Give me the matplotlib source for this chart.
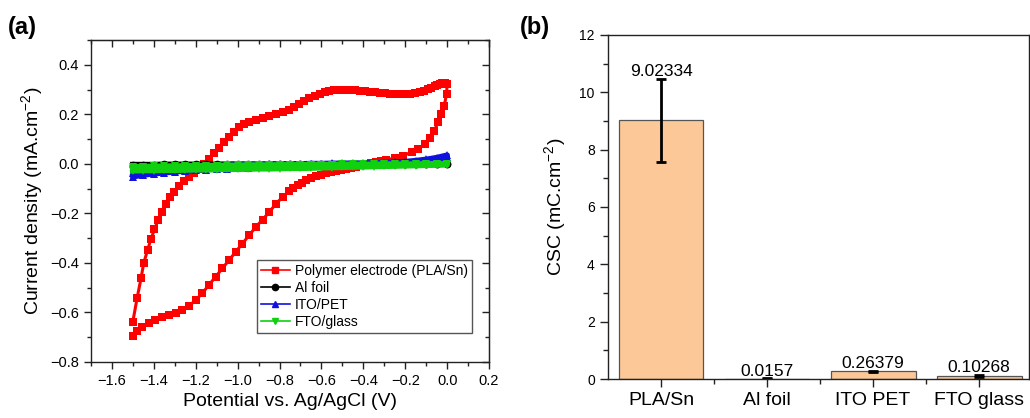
import matplotlib
matplotlib.use("Agg")
import matplotlib.pyplot as plt
from matplotlib.lines import Line2D
from matplotlib.ticker import MultipleLocator

plt.rcParams['font.family'] = ['Liberation Sans', 'DejaVu Sans']
plt.rcParams['mathtext.fontset'] = 'custom'
plt.rcParams['mathtext.rm'] = 'Liberation Sans'
plt.rcParams['mathtext.default'] = 'regular'

# ---------------- data: panel (a) cyclic voltammetry ----------------
# Polymer electrode (PLA/Sn): forward scan (-1.5 V -> 0 V)
pla_fwd_v = [-1.500, -1.480, -1.461, -1.448, -1.429, -1.413, -1.397, -1.380, -1.363, -1.344,
             -1.325, -1.304, -1.280, -1.256, -1.232, -1.209, -1.185, -1.161, -1.137, -1.113,
             -1.089, -1.065, -1.041, -1.017, -0.993, -0.969, -0.945, -0.913, -0.881, -0.849,
             -0.817, -0.785, -0.753, -0.729, -0.705, -0.681, -0.657, -0.633, -0.609, -0.585,
             -0.562, -0.538, -0.514, -0.490, -0.466, -0.442, -0.418, -0.394, -0.370, -0.346,
             -0.322, -0.298, -0.274, -0.250, -0.226, -0.202, -0.178, -0.154, -0.130, -0.110,
             -0.091, -0.075, -0.059, -0.047, -0.035, -0.023, -0.011, 0.000]
pla_fwd_j = [-0.637, -0.543, -0.462, -0.400, -0.346, -0.302, -0.265, -0.228, -0.195, -0.161,
             -0.134, -0.114, -0.091, -0.070, -0.054, -0.038, -0.020, 0.000, 0.020, 0.043,
             0.064, 0.087, 0.107, 0.130, 0.147, 0.161, 0.170, 0.178, 0.185, 0.194,
             0.201, 0.211, 0.219, 0.229, 0.241, 0.253, 0.265, 0.275, 0.284, 0.290,
             0.295, 0.297, 0.298, 0.298, 0.298, 0.297, 0.295, 0.293, 0.291, 0.289,
             0.287, 0.285, 0.284, 0.282, 0.281, 0.282, 0.284, 0.287, 0.292, 0.296,
             0.301, 0.308, 0.315, 0.320, 0.324, 0.327, 0.328, 0.322]
# reverse scan (0 V -> -1.5 V)
pla_rev_v = [-0.003, -0.014, -0.027, -0.043, -0.062, -0.083, -0.106, -0.138, -0.170, -0.210,
             -0.250, -0.290, -0.314, -0.338, -0.362, -0.386, -0.410, -0.434, -0.458, -0.482,
             -0.506, -0.530, -0.554, -0.577, -0.601, -0.625, -0.649, -0.673, -0.694, -0.714,
             -0.734, -0.753, -0.785, -0.817, -0.849, -0.881, -0.913, -0.945, -0.977, -1.009,
             -1.041, -1.073, -1.105, -1.137, -1.169, -1.200, -1.232, -1.264, -1.296, -1.328,
             -1.360, -1.392, -1.424, -1.456, -1.480, -1.500]
pla_rev_j = [0.281, 0.234, 0.201, 0.167, 0.134, 0.104, 0.080, 0.060, 0.047, 0.033,
             0.023, 0.016, 0.011, 0.006, 0.003, 0.000, -0.005, -0.011, -0.015, -0.020,
             -0.023, -0.027, -0.032, -0.038, -0.044, -0.051, -0.058, -0.067, -0.076, -0.087,
             -0.098, -0.109, -0.134, -0.161, -0.195, -0.225, -0.255, -0.288, -0.322, -0.355,
             -0.389, -0.422, -0.456, -0.489, -0.523, -0.550, -0.574, -0.590, -0.601, -0.610,
             -0.619, -0.630, -0.643, -0.657, -0.673, -0.697]

# potentials for the flat curves (forward then reverse)
flat_fwd_v = [-1.50, -1.45, -1.40, -1.35, -1.30, -1.25, -1.20, -1.15, -1.10, -1.05, -1.00,
              -0.95, -0.90, -0.85, -0.80, -0.75, -0.70, -0.65, -0.60, -0.55, -0.50,
              -0.45, -0.40, -0.35, -0.30, -0.25, -0.20, -0.15, -0.10, -0.05, 0.00]
flat_rev_v = [0.00, -0.05, -0.10, -0.15, -0.20, -0.25, -0.30, -0.35, -0.40, -0.45, -0.50,
              -0.55, -0.60, -0.65, -0.70, -0.75, -0.80, -0.85, -0.90, -0.95, -1.00,
              -1.05, -1.10, -1.15, -1.20, -1.25, -1.30, -1.35, -1.40, -1.45, -1.50]

al_fwd_j = [-0.003, -0.003, -0.003, -0.002, -0.002, -0.002, -0.002, -0.002, -0.002, -0.001, -0.001,
            -0.001, -0.001, -0.001, -0.001, -0.001, -0.001, 0.000, 0.000, 0.000, 0.000,
            0.000, 0.000, 0.000, 0.000, 0.000, 0.000, 0.000, 0.000, 0.000, 0.000]
al_rev_j = [-0.001, -0.001, -0.001, -0.001, -0.002, -0.002, -0.002, -0.002, -0.003, -0.003, -0.003,
            -0.003, -0.004, -0.004, -0.004, -0.004, -0.005, -0.005, -0.005, -0.005, -0.006,
            -0.006, -0.006, -0.006, -0.007, -0.007, -0.007, -0.007, -0.008, -0.008, -0.008]

ito_fwd_j = [-0.035, -0.030, -0.026, -0.022, -0.018, -0.015, -0.012, -0.010, -0.008, -0.006, -0.005,
             -0.004, -0.003, -0.002, -0.001, 0.000, 0.000, 0.001, 0.001, 0.002, 0.002,
             0.003, 0.003, 0.004, 0.005, 0.007, 0.009, 0.013, 0.018, 0.025, 0.035]
ito_rev_j = [0.028, 0.012, 0.006, 0.003, 0.001, 0.000, -0.001, -0.002, -0.003, -0.004, -0.005,
             -0.006, -0.007, -0.008, -0.009, -0.010, -0.011, -0.012, -0.013, -0.015, -0.017,
             -0.019, -0.021, -0.023, -0.026, -0.029, -0.032, -0.036, -0.040, -0.045, -0.052]

fto_fwd_j = [-0.012, -0.011, -0.010, -0.009, -0.009, -0.008, -0.008, -0.007, -0.007, -0.006, -0.006,
             -0.005, -0.005, -0.005, -0.004, -0.004, -0.004, -0.003, -0.003, -0.003, -0.002,
             -0.002, -0.002, -0.002, -0.001, -0.001, -0.001, -0.001, 0.000, 0.000, 0.000]
fto_rev_j = [-0.004, -0.005, -0.006, -0.007, -0.008, -0.009, -0.010, -0.011, -0.012, -0.013, -0.014,
             -0.015, -0.016, -0.017, -0.018, -0.018, -0.019, -0.020, -0.020, -0.021, -0.022,
             -0.022, -0.023, -0.024, -0.024, -0.025, -0.026, -0.026, -0.027, -0.027, -0.028]

series_labels = ['Polymer electrode (PLA/Sn)', 'Al foil', 'ITO/PET', 'FTO/glass']

# ---------------- data: panel (b) CSC bars ----------------
csc_categories = ['PLA/Sn', 'Al foil', 'ITO PET', 'FTO glass']
csc_values = [9.02334, 0.0157, 0.26379, 0.10268]
csc_errors = [1.45, 0.004, 0.02, 0.045]

# ---------------- figure ----------------
fig = plt.figure(figsize=(10.30, 4.18), dpi=100)
ax = fig.add_axes([0.0883, 0.134, 0.3865, 0.7703])
ax2 = fig.add_axes([0.5903, 0.0933, 0.4087, 0.823])

RED, BLACK, BLUE, GREEN = '#ff0000', '#000000', '#1010e0', '#10d010'

ax.plot(pla_fwd_v + pla_rev_v, pla_fwd_j + pla_rev_j, color=RED, marker='s', ms=5.2,
        lw=2.2, mec=RED, mew=0)
ax.plot(flat_fwd_v + flat_rev_v, al_fwd_j + al_rev_j, color=BLACK, marker='o', ms=5.5,
        lw=4, mew=0)
ax.plot(flat_fwd_v + flat_rev_v, ito_fwd_j + ito_rev_j, color=BLUE, marker='^', ms=6.2,
        lw=4, mew=0)
ax.plot(flat_fwd_v + flat_rev_v, fto_fwd_j + fto_rev_j, color=GREEN, marker='v', ms=6.2,
        lw=4, mew=0)

handles = [Line2D([], [], color=RED, marker='s', ms=4.5, lw=1.2),
           Line2D([], [], color=BLACK, marker='o', ms=4.5, lw=1.2),
           Line2D([], [], color=BLUE, marker='^', ms=5, lw=1.2),
           Line2D([], [], color=GREEN, marker='v', ms=5, lw=1.2)]
leg = ax.legend(handles, series_labels, loc='lower right', bbox_to_anchor=(0.957, 0.09),
                borderaxespad=0, fontsize=10, frameon=True, fancybox=False,
                edgecolor='#555555', framealpha=1, handlelength=2.1, handletextpad=0.35,
                labelspacing=0.22, borderpad=0.3)
leg.get_frame().set_linewidth(1.0)

ax.set_xlim(-1.7, 0.2)
ax.set_ylim(-0.8, 0.5)
ax.set_xticks([-1.6, -1.4, -1.2, -1.0, -0.8, -0.6, -0.4, -0.2, 0.0, 0.2])
ax.set_yticks([-0.8, -0.6, -0.4, -0.2, 0.0, 0.2, 0.4])
ax.xaxis.set_minor_locator(MultipleLocator(0.1))
ax.yaxis.set_minor_locator(MultipleLocator(0.1))
ax.tick_params(which='both', direction='out', labelsize=10.5, width=1, color='#222222')
ax.tick_params(which='major', length=5)
ax.tick_params(which='minor', length=3)
for sp in ax.spines.values():
    sp.set_linewidth(1.0)
    sp.set_color('#222222')

secx = ax.secondary_xaxis('top')
secx.set_xticks(ax.get_xticks())
secx.xaxis.set_minor_locator(MultipleLocator(0.1))
secx.tick_params(which='both', direction='in', labeltop=False, color='#222222', width=1)
secx.tick_params(which='major', length=5)
secx.tick_params(which='minor', length=3)
secy = ax.secondary_yaxis('right')
secy.set_yticks([-0.8, -0.6, -0.4, -0.2, 0.0, 0.2, 0.4])
secy.yaxis.set_minor_locator(MultipleLocator(0.1))
secy.tick_params(which='both', direction='in', labelright=False, color='#222222', width=1)
secy.tick_params(which='major', length=5)
secy.tick_params(which='minor', length=3)

ax.set_xlabel('Potential vs. Ag/AgCl (V)', fontsize=14, labelpad=4)
ax.set_ylabel('Current density (mA.cm$^{-2}$)', fontsize=14, labelpad=4)

# ---------------- panel (b) ----------------
xpos = list(range(len(csc_categories)))
ax2.bar(xpos, csc_values, width=0.8, color='#fdc898', edgecolor='#555555', linewidth=0.9,
        yerr=csc_errors, error_kw=dict(ecolor='black', elinewidth=2, capsize=3.5, capthick=2),
        zorder=2)
for xi, v, e in zip(xpos, csc_values, csc_errors):
    ax2.text(xi, v + e + 0.1, str(v), ha='center', va='baseline', fontsize=12.5)

ax2.set_xlim(-0.5, 3.47)
ax2.set_ylim(0, 12)
ax2.set_xticks(xpos)
ax2.set_xticklabels(csc_categories, fontsize=14)
ax2.set_xticks([0.5, 1.5, 2.5], minor=True)
ax2.set_yticks([0, 2, 4, 6, 8, 10, 12])
ax2.yaxis.set_minor_locator(MultipleLocator(1))
ax2.tick_params(which='both', direction='out', width=1, color='#222222')
ax2.tick_params(axis='y', labelsize=10)
ax2.tick_params(which='major', length=6)
ax2.tick_params(which='minor', length=3.5)
for sp in ax2.spines.values():
    sp.set_linewidth(1.0)
    sp.set_color('#222222')
ax2.set_ylabel('CSC (mC.cm$^{-2}$)', fontsize=14, labelpad=8)

fig.text(0.008, 0.935, '(a)', fontsize=17, fontweight='bold', va='center', ha='left')
fig.text(0.505, 0.935, '(b)', fontsize=17, fontweight='bold', va='center', ha='left')

fig.savefig('out.png', dpi=100)
